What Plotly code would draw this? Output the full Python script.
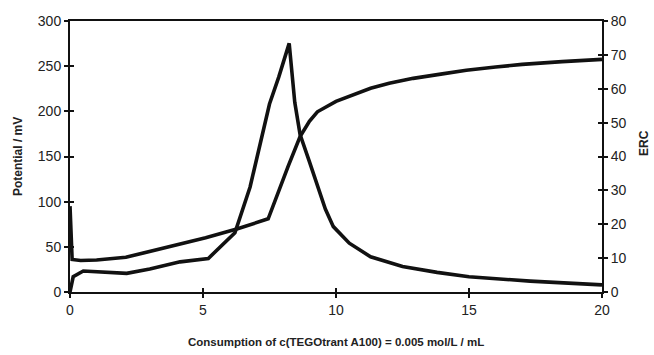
import plotly.graph_objects as go

# Potential (left axis, mV)
pot_x = [0, 0.08, 0.4, 1.0, 2.1, 3.0, 4.1, 5.1, 6.3, 7.45, 8.2, 8.65, 9.0, 9.3, 10.0, 10.9, 11.3, 12.0, 12.9, 14.0, 14.9, 16.0, 17.0, 18.5, 20.0]
pot_y = [95, 36, 34.8, 35.5, 38.4, 45, 53.5, 60, 70, 81, 139, 172, 189, 199.5, 211, 221.5, 225.5, 231, 236.5, 241.5, 245.5, 249, 252, 255, 257.5]

# ERC (right axis)
erc_x = [0, 0.05, 0.12, 0.5, 2.13, 3.0, 4.14, 5.2, 6.2, 6.77, 7.5, 7.85, 8.24, 8.45, 8.65, 9.0, 9.27, 9.6, 9.9, 10.5, 11.3, 12.5, 13.8, 15.0, 17.3, 20.0]
erc_y = [0, 2.5, 4.5, 6.2, 5.5, 6.8, 8.9, 9.9, 17.5, 31, 55.5, 63.5, 73.4, 56, 46.5, 38.5, 32, 24.5, 19.3, 14.4, 10.4, 7.5, 5.8, 4.5, 3.2, 2.1]

x_ticks = [0, 5, 10, 15, 20]
y_ticks = [0, 50, 100, 150, 200, 250, 300]
y2_ticks = [0, 10, 20, 30, 40, 50, 60, 70, 80]

FONT = "Liberation Sans, Arial, sans-serif"
LC = "#111111"

fig = go.Figure()
fig.add_trace(go.Scatter(x=pot_x, y=pot_y, mode="lines",
                         line=dict(color=LC, width=3.6), showlegend=False,
                         xaxis="x", yaxis="y"))
fig.add_trace(go.Scatter(x=erc_x, y=erc_y, mode="lines",
                         line=dict(color=LC, width=3.6), showlegend=False,
                         xaxis="x", yaxis="y2"))
# dummy traces for inside-tick overlay axes
fig.add_trace(go.Scatter(x=[None], y=[None], mode="lines", showlegend=False,
                         xaxis="x2", yaxis="y3", hoverinfo="skip"))
fig.add_trace(go.Scatter(x=[None], y=[None], mode="lines", showlegend=False,
                         xaxis="x2", yaxis="y4", hoverinfo="skip"))

axis_common = dict(showgrid=False, zeroline=False, ticklen=4, tickwidth=1.5,
                   tickcolor=LC, linecolor=LC,
                   tickfont=dict(family=FONT, size=14, color="#222"))

fig.update_layout(
    width=654, height=355,
    margin=dict(l=70, r=52, t=21, b=63),
    paper_bgcolor="white", plot_bgcolor="white",
    font=dict(family=FONT, color="#222"),
    xaxis=dict(range=[0, 20], tickvals=x_ticks, ticks="outside", showline=True,
               linewidth=2, mirror=True, anchor="y", **axis_common),
    xaxis2=dict(range=[0, 20], tickvals=x_ticks, ticks="inside", showline=False,
                showticklabels=False, overlaying="x", anchor="y3", side="bottom",
                **axis_common),
    yaxis=dict(range=[0, 300], tickvals=y_ticks, ticks="outside", showline=True,
               linewidth=2, anchor="x", **axis_common),
    yaxis2=dict(range=[0, 80], tickvals=y2_ticks, ticks="outside", showline=True,
                linewidth=2, overlaying="y", side="right", anchor="x", **axis_common),
    yaxis3=dict(range=[0, 300], tickvals=y_ticks, ticks="inside", showline=False,
                showticklabels=False, overlaying="y", side="left", anchor="x2",
                **axis_common),
    yaxis4=dict(range=[0, 80], tickvals=y2_ticks, ticks="inside", showline=False,
                showticklabels=False, overlaying="y", side="right", anchor="x2",
                **axis_common),
    annotations=[
        dict(text="<b>Potential / mV</b>", textangle=-90, xref="paper", yref="paper",
             x=-0.0977, y=0.498, xanchor="center", yanchor="middle", showarrow=False,
             font=dict(family=FONT, size=12, color="#222")),
        dict(text="<b>ERC</b>", textangle=-90, xref="paper", yref="paper",
             x=1.079, y=0.55, xanchor="center", yanchor="middle", showarrow=False,
             font=dict(family=FONT, size=12, color="#222")),
        dict(text="<b>Consumption of c(TEGOtrant A100) = 0.005 mol/L / mL</b>",
             xref="paper", yref="paper", x=0.5, y=-0.185, xanchor="center",
             yanchor="middle", showarrow=False,
             font=dict(family=FONT, size=11.5, color="#222")),
    ],
)

fig.write_html("out.html")
